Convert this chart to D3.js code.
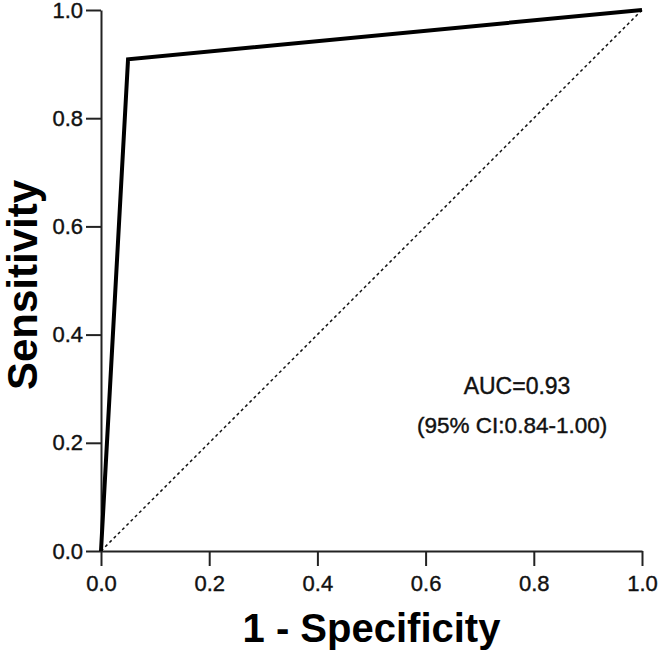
<!DOCTYPE html>
<html>
<head>
<meta charset="utf-8">
<script src="https://cdn.jsdelivr.net/npm/d3@7"></script>
<style>
  body { margin: 0; background: #fff; }
  text { font-family: "Liberation Sans", Arial, sans-serif; }
</style>
</head>
<body>
<div id="chart"></div>
<script>
// ROC curve with reference diagonal

const fpr = [0, 0.05, 1];          // 1 - specificity
const tpr = [0, 0.909, 1];         // sensitivity
const diagX = [0, 1];
const diagY = [0, 1];
const xTicks = [0, 0.2, 0.4, 0.6, 0.8, 1.0];
const yTicks = [0, 0.2, 0.4, 0.6, 0.8, 1.0];
const aucText = "AUC=0.93";
const ciText = "(95% CI:0.84-1.00)";

const W = 660, H = 652;
const margin = {top: 10, right: 18, bottom: 101, left: 101};
const width = W - margin.left - margin.right,
      height = H - margin.top - margin.bottom;

const svg = d3.select("#chart")
  .append("svg")
  .attr("width", W)
  .attr("height", H);

const g = svg.append("g")
  .attr("transform", `translate(${margin.left},${margin.top})`);

const x = d3.scaleLinear().domain([0, 1]).range([0, width]);
const y = d3.scaleLinear().domain([0, 1]).range([height, 0]);

// axes
const xAxis = g.append("g")
  .attr("transform", `translate(0,${height})`)
  .call(d3.axisBottom(x).tickValues(xTicks).tickFormat(d3.format(".1f")).tickSize(15).tickSizeOuter(0).tickPadding(9));

const yAxis = g.append("g")
  .call(d3.axisLeft(y).tickValues(yTicks).tickFormat(d3.format(".1f")).tickSize(15).tickSizeOuter(0).tickPadding(3));

[xAxis, yAxis].forEach(a => {
  a.select(".domain").attr("stroke", "#222").attr("stroke-width", 2);
  a.selectAll(".tick line").attr("stroke", "#222").attr("stroke-width", 2);
  a.selectAll(".tick text")
    .attr("fill", "#111")
    .attr("stroke", "#111")
    .attr("stroke-width", 0.4)
    .style("font-size", "22px");
});

// reference diagonal
const diag = diagX.map((d, i) => [d, diagY[i]]);
g.append("path")
  .datum(diag)
  .attr("fill", "none")
  .attr("stroke", "#111")
  .attr("stroke-width", 1.5)
  .attr("stroke-dasharray", "3,3")
  .attr("d", d3.line().x(d => x(d[0])).y(d => y(d[1])));

// ROC curve
const roc = fpr.map((d, i) => [d, tpr[i]]);
g.append("path")
  .datum(roc)
  .attr("fill", "none")
  .attr("stroke", "#000")
  .attr("stroke-width", 4)
  .attr("stroke-linejoin", "miter")
  .attr("d", d3.line().x(d => x(d[0])).y(d => y(d[1])));

// annotations
g.append("text")
  .attr("x", x(0.769))
  .attr("y", y(0.29))
  .attr("text-anchor", "middle")
  .style("font-size", "23px")
  .attr("fill", "#111")
  .attr("stroke", "#111")
  .attr("stroke-width", 0.4)
  .text(aucText);

g.append("text")
  .attr("x", x(0.76))
  .attr("y", y(0.218))
  .attr("text-anchor", "middle")
  .style("font-size", "22.5px")
  .attr("fill", "#111")
  .attr("stroke", "#111")
  .attr("stroke-width", 0.4)
  .text(ciText);

// axis titles
svg.append("text")
  .attr("x", margin.left + width / 2)
  .attr("y", 642)
  .attr("text-anchor", "middle")
  .style("font-size", "40px")
  .attr("font-weight", "bold")
  .attr("fill", "#000")
  .text("1 - Specificity");

svg.append("text")
  .attr("transform", "translate(37,285) rotate(-90)")
  .attr("text-anchor", "middle")
  .style("font-size", "42px")
  .attr("font-weight", "bold")
  .attr("fill", "#000")
  .text("Sensitivity");
</script>
</body>
</html>
